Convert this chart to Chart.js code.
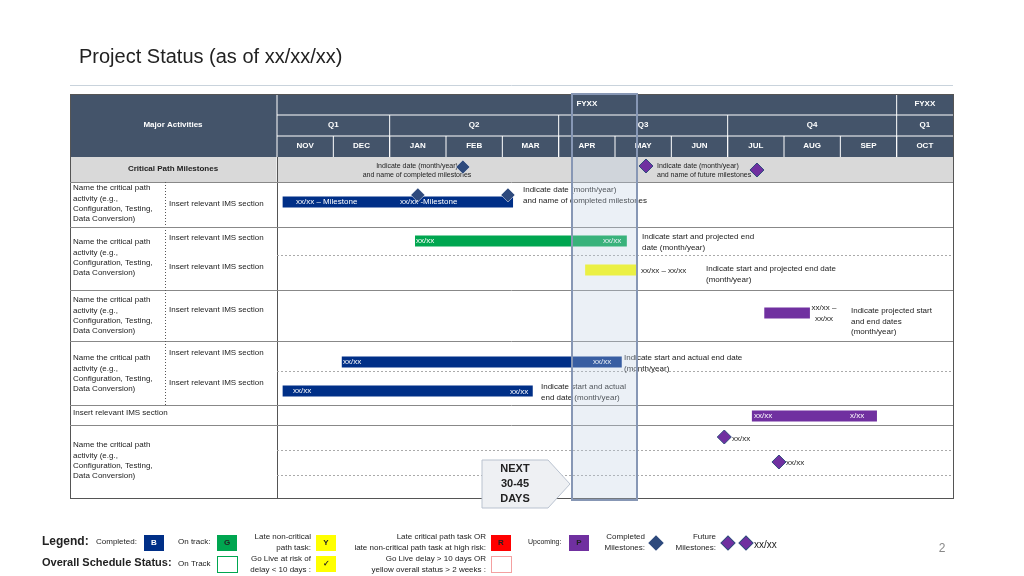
<!DOCTYPE html>
<html><head><meta charset="utf-8">
<script src="https://cdn.jsdelivr.net/npm/chart.js@4"></script>
<style>html,body{margin:0;background:#fff}#c{display:block}</style>
</head><body>
<div style="width:1024px;height:576px"><canvas id="c"></canvas></div>
<script>
// months across the top, x unit = one month starting at NOV
const months = ['NOV','DEC','JAN','FEB','MAR','APR','MAY','JUN','JUL','AUG','SEP','OCT'];
const quarters = [['Q1',0,2],['Q2',2,5],['Q3',5,8],['Q4',8,11],['Q1',11,12]];
const fiscal = [['FYXX',0,11],['FYXX',11,12]];

// bars: [start, end, row-y]
const navyBars = [[0.1,4.19,2.25],[1.15,6.12,10.25],[0.1,4.54,11.7]];
const greenBars = [[2.45,6.21,4.2]];
const yellowBars = [[5.47,6.39,5.65]];
const purpleBars = [[8.65,9.46,7.8],[8.43,10.65,12.95]];
const blueMilestones = [[3.3,0.5],[2.5,1.9],[4.1,1.9]];
const purpleMilestones = [[6.55,0.45],[8.52,0.65],[7.94,14.0],[8.91,15.25]];

const NAVY='#002f87', GREEN='#00a650', YELLOW='#ffff00', PURPLE='#7030a0', DIAM='#2e4a7d', HEAD='#44546a';

const datasets = [];
function addBars(list, color){
  list.forEach(b=>datasets.push({type:'line',data:[{x:b[0],y:b[2]},{x:b[1],y:b[2]}],
    borderColor:color,borderWidth:11,borderCapStyle:'butt',pointRadius:0,order:2}));
}
addBars(navyBars,NAVY);addBars(greenBars,GREEN);addBars(yellowBars,YELLOW);addBars(purpleBars,PURPLE);
datasets.push({type:'scatter',data:blueMilestones.map(m=>({x:m[0],y:m[1]})),pointStyle:'rectRot',
  pointRadius:7,backgroundColor:DIAM,borderColor:'#fff',borderWidth:0.5,order:1});
datasets.push({type:'scatter',data:purpleMilestones.map(m=>({x:m[0],y:m[1]})),pointStyle:'rectRot',
  pointRadius:7,backgroundColor:PURPLE,borderColor:DIAM,borderWidth:1,order:1});

function txt(c,s,x,y,o={}){
  c.font=(o.bold?'bold ':'')+(o.size||8)+'px "Liberation Sans", Arial';
  c.fillStyle=o.color||'#222';c.textAlign=o.align||'left';c.textBaseline='middle';
  c.fillText(s,x,y);
}
function lines(c,arr,x,y,lh,o){arr.forEach((s,i)=>txt(c,s,x,y+i*lh,o));}
function hline(c,x1,x2,y,dash,col){c.save();c.strokeStyle=col||'#999';c.lineWidth=1;c.setLineDash(dash?[2,2]:[]);
  c.beginPath();c.moveTo(x1,y+0.5);c.lineTo(x2,y+0.5);c.stroke();c.restore();}

const table = {
  id:'table',
  beforeDatasetsDraw(chart){
    const c=chart.ctx, xs=chart.scales.x, a=chart.chartArea;
    const L=70, R=a.right, T=94, B=a.bottom;
    c.save();
    txt(c,'Project Status (as of xx/xx/xx)',79,57,{size:20,color:'#222'});
    hline(c,70,953,85,false,'#c9d3dc');
    // header
    c.fillStyle=HEAD;c.fillRect(L,T,R-L,a.top-T);
    c.fillStyle='#d9d9d9';c.fillRect(L,a.top,R-L,25);
    c.strokeStyle='#fff';c.lineWidth=1;
    const px=v=>xs.getPixelForValue(v);
    c.beginPath();c.moveTo(a.left,T);c.lineTo(a.left,a.bottom);c.moveTo(a.left,115);c.lineTo(R,115);c.moveTo(a.left,136);c.lineTo(R,136);c.stroke();
    fiscal.forEach(f=>{txt(c,f[0],(px(f[1])+px(f[2]))/2,104,{bold:true,color:'#fff',align:'center'});
      if(f[1]>0){c.beginPath();c.moveTo(px(f[1]),T);c.lineTo(px(f[1]),a.top);c.stroke();}});
    quarters.forEach(q=>{txt(c,q[0],(px(q[1])+px(q[2]))/2,125,{bold:true,color:'#fff',align:'center'});
      if(q[1]>0&&q[1]<11){c.beginPath();c.moveTo(px(q[1]),115);c.lineTo(px(q[1]),a.top);c.stroke();}});
    months.forEach((m,i)=>{txt(c,m,px(i+0.5),146,{bold:true,color:'#fff',align:'center'});
      if(i>0){c.beginPath();c.moveTo(px(i),136);c.lineTo(px(i),a.top);c.stroke();}});
    txt(c,'Major Activities',173,125,{bold:true,color:'#fff',align:'center'});
    // body lines
    c.strokeStyle='#555';c.lineWidth=1;c.strokeRect(L+0.5,T+0.5,R-L,B-T);
    c.beginPath();c.moveTo(a.left+0.5,a.top);c.lineTo(a.left+0.5,B);c.stroke();
    [182,290,341,405,425].forEach(y=>hline(c,L,R,y,false,'#888'));
    [255,371,450,475].forEach(y=>hline(c,a.left,R,y,true,'#aaa'));
    c.save();c.strokeStyle='#555';c.setLineDash([1,2]);
    [[182,227],[227,290],[290,341],[341,405]].forEach(r=>{c.beginPath();c.moveTo(165.5,r[0]);c.lineTo(165.5,r[1]);c.stroke();});
    c.restore();
    hline(c,165,R,227,false,'#888');hline(c,L,165,227,false,'#888');
    txt(c,'Critical Path Milestones',173,169,{bold:true,align:'center'});
    const nm=['Name the critical path','activity (e.g.,','Configuration, Testing,','Data Conversion)'];
    [188,242,300,358,445].forEach(y=>lines(c,nm,73,y,10.3,{}));
    txt(c,'Insert relevant IMS section',169,204);
    txt(c,'Insert relevant IMS section',169,238);txt(c,'Insert relevant IMS section',169,267);
    txt(c,'Insert relevant IMS section',169,310);
    txt(c,'Insert relevant IMS section',169,353);txt(c,'Insert relevant IMS section',169,383);
    txt(c,'Insert relevant IMS section',73,413);
    // annotations
    lines(c,['Indicate date (month/year)','and name of completed milestones'],417,166,9,{size:7,align:'center'});
    lines(c,['Indicate date (month/year)','and name of future milestones'],657,166,9,{size:7});
    lines(c,['Indicate date (month/year)','and name of completed milestones'],523,190,10.5,{});
    lines(c,['Indicate start and projected end','date (month/year)'],642,237,10.5,{});
    txt(c,'xx/xx – xx/xx',641,271);
    lines(c,['Indicate start and projected end date','(month/year)'],706,269,10.5,{});
    lines(c,['xx/xx –','xx/xx'],824,308,10.5,{align:'center'});
    lines(c,['Indicate projected start','and end dates','(month/year)'],851,311,10.5,{});
    lines(c,['Indicate start and actual end date','(month/year)'],624,358,10.5,{});
    lines(c,['Indicate start and actual','end date (month/year)'],541,387,10.5,{});
    txt(c,'xx/xx',732,439);txt(c,'xx/xx',786,463);
    c.restore();
  },
  afterDatasetsDraw(chart){
    const c=chart.ctx;c.save();
    const w={color:'#fff'};
    txt(c,'xx/xx – Milestone',296,202,w);txt(c,'xx/xx -Milestone',400,202,w);
    txt(c,'xx/xx',416,241,w);txt(c,'xx/xx',603,241,w);
    txt(c,'xx/xx',343,362,w);txt(c,'xx/xx',593,362,w);
    txt(c,'xx/xx',293,391,w);txt(c,'xx/xx',510,392,w);
    txt(c,'xx/xx',754,416,w);txt(c,'x/xx',850,416,w);
    // next 30-45 days window
    c.fillStyle='rgba(190,205,225,0.3)';c.fillRect(572,157,65,343);
    c.strokeStyle='#8797b5';c.lineWidth=2;c.strokeRect(572,94,65,406);
    c.fillStyle='#eef0f3';c.strokeStyle='#b9c2cf';c.lineWidth=1;
    c.beginPath();c.moveTo(482,460);c.lineTo(548,460);c.lineTo(570,484);c.lineTo(548,508);c.lineTo(482,508);c.closePath();c.fill();c.stroke();
    lines(c,['NEXT','30-45','DAYS'],515,469,15,{bold:true,size:11,align:'center'});
    // legend
    txt(c,'Legend:',42,542,{bold:true,size:12});txt(c,'Completed:',96,542,{size:8});
    const box=(x,y,col,l,tc,bc)=>{c.fillStyle=col;c.fillRect(x,y,20,16);if(bc){c.strokeStyle=bc;c.strokeRect(x+0.5,y+0.5,20,16);}
      if(l)txt(c,l,x+10,y+8,{bold:true,size:8,align:'center',color:tc||'#fff'});};
    box(144,535,NAVY,'B');txt(c,'On track:',178,542);box(217,535,GREEN,'G','#222');
    lines(c,['Late non-critical','path task:'],311,537,11,{align:'right'});box(316,535,YELLOW,'Y','#222');
    lines(c,['Late critical path task OR','late non-critical path task at high risk:'],486,537,11,{align:'right'});box(491,535,'#ff0000','R','#222');
    txt(c,'Upcoming:',528,542,{size:7});box(569,535,PURPLE,'P','#222');
    lines(c,['Completed','Milestones:'],645,537,11,{align:'right'});
    lines(c,['Future','Milestones:'],716,537,11,{align:'right'});
    txt(c,'xx/xx',754,545,{size:10});
    txt(c,'Overall Schedule Status:',42,563,{bold:true,size:11});txt(c,'On Track',178,564);
    box(217,556,'#fff','', '#222','#00a650');
    lines(c,['Go Live at risk of','delay < 10 days :'],311,559,11,{align:'right'});box(316,556,YELLOW,'✓','#222');
    lines(c,['Go Live delay > 10 days OR','yellow overall status > 2 weeks :'],486,559,11,{align:'right'});box(491,556,'#fff','','#222','#f4a0a0');
    txt(c,'2',942,549,{size:12,color:'#888',align:'center'});
    c.restore();
  }
};

new Chart(document.getElementById('c'),{
  data:{datasets},
  options:{
    responsive:true,maintainAspectRatio:false,animation:false,
    layout:{padding:{left:277,right:71,top:157,bottom:78}},
    scales:{
      x:{type:'linear',min:0,max:12,display:false},
      y:{type:'linear',min:0,max:17.05,reverse:true,display:false}
    },
    plugins:{legend:{display:false},tooltip:{enabled:false}}
  },
  plugins:[table,{id:'legendDiamonds',afterDraw(chart){
    const c=chart.ctx;
    [[656,DIAM],[728,PURPLE],[746,PURPLE]].forEach(d=>{c.save();c.translate(d[0],543);c.rotate(Math.PI/4);
      c.fillStyle=d[1];c.fillRect(-5,-5,10,10);c.strokeStyle=DIAM;c.strokeRect(-5,-5,10,10);c.restore();});
  }}]
});
</script>
</body></html>
